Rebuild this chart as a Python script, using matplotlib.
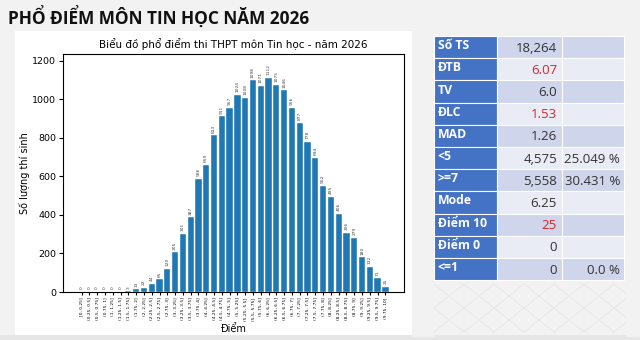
import matplotlib
matplotlib.use("Agg")
import matplotlib.pyplot as plt
from matplotlib.patches import Rectangle
import numpy as np

# ---- data ----
bin_edges = [i * 0.25 for i in range(41)]
def fmt(v):
    return ("%g" % v)
bin_labels = ["[0, 0.25]"] + ["(%s, %s]" % (fmt(bin_edges[i]), fmt(bin_edges[i + 1])) for i in range(1, 40)]
counts = [0, 0, 0, 0, 0, 0, 3, 13, 22, 44, 65, 120, 205, 301, 387, 586, 659, 813, 911, 957,
          1024, 1008, 1098, 1071, 1112, 1075, 1046, 956, 877, 778, 694, 552, 495, 406, 306, 279,
          180, 132, 71, 25]

page_title = "PHỔ ĐIỂM MÔN TIN HỌC NĂM 2026"
chart_title = "Biểu đồ phổ điểm thi THPT môn Tin học - năm 2026"
y_label = "Số lượng thí sinh"
x_label = "Điểm"
y_ticks = [0, 200, 400, 600, 800, 1000, 1200]

stat_names = ["Số TS", "ĐTB", "TV", "ĐLC", "MAD", "<5", ">=7", "Mode", "Điểm 10", "Điểm 0", "<=1"]
stat_values = ["18,264", "6.07", "6.0", "1.53", "1.26", "4,575", "5,558", "6.25", "25", "0", "0"]
stat_pcts = ["", "", "", "", "", "25.049 %", "30.431 %", "", "", "", "0.0 %"]
stat_red = [False, True, False, True, False, False, False, False, True, False, False]

W, H = 640, 340
fig = plt.figure(figsize=(6.4, 3.4), dpi=100)
fig.patch.set_facecolor("#f2f2f2")

# background / layout axes in pixel coordinates
bg = fig.add_axes([0, 0, 1, 1])
bg.set_xlim(0, W)
bg.set_ylim(H, 0)
bg.axis("off")
bg.add_patch(Rectangle((0, 335), W, 5, facecolor="#e6e6e6", edgecolor="none"))
bg.add_patch(Rectangle((15, 31), 397, 304, facecolor="white", edgecolor="none"))

# faint pattern below table
for k in range(-6, 10):
    x0 = 434 + k * 30
    bg.plot([x0, x0 + 60], [284, 332], color="#e4e4e4", lw=0.5, zorder=0)
    bg.plot([x0 + 60, x0], [284, 332], color="#e4e4e4", lw=0.5, zorder=0)
bg.add_patch(Rectangle((626, 282), 14, 55, facecolor="#f2f2f2", edgecolor="none", zorder=1))
bg.add_patch(Rectangle((412, 282), 22, 55, facecolor="#f2f2f2", edgecolor="none", zorder=1))

bg.text(8, 17, page_title, fontsize=12.4, fontweight="bold", family="Open Sans",
        color="#111111", va="center", ha="left")

# table
row_h = 22.2
top = 36
c0, c1, c2, c3 = 434, 497, 562, 624
for i, name in enumerate(stat_names):
    y = top + i * row_h
    band = "#cfd5ea" if i % 2 == 0 else "#e9ebf5"
    bg.add_patch(Rectangle((c0, y), c1 - c0, row_h, facecolor="#4472c4", edgecolor="white", lw=0.8))
    bg.add_patch(Rectangle((c1, y), c2 - c1, row_h, facecolor=band, edgecolor="white", lw=0.8))
    bg.add_patch(Rectangle((c2, y), c3 - c2, row_h, facecolor=band, edgecolor="white", lw=0.8))
    bg.text(c0 + 4, y + row_h / 2 - 1.5, name, color="white", fontweight="bold",
            fontsize=8.8, family="Open Sans", va="center", ha="left")
    bg.text(c2 - 5, y + row_h / 2 + 1, stat_values[i],
            color="#d62728" if stat_red[i] else "#333333",
            fontsize=9.5, family="Open Sans", va="center", ha="right")
    if stat_pcts[i]:
        bg.text(c3 - 4, y + row_h / 2 + 1, stat_pcts[i], color="#333333",
                fontsize=9.5, family="Open Sans", va="center", ha="right")

# chart
ax = fig.add_axes([63 / W, 1 - 292 / H, (404 - 63) / W, (292 - 54) / H])
x = np.arange(len(counts))
bars = ax.bar(x, counts, width=0.8, color="#1f77b4", edgecolor="white", linewidth=0.3)
ax.bar_label(bars, labels=[str(c) for c in counts], rotation=90, fontsize=3.2,
             color="#444444", padding=2)
ax.set_ylim(0, 1235)
ax.set_yticks(y_ticks)
ax.tick_params(axis="y", labelsize=6.8, length=3, pad=2)
ax.set_xticks(x)
ax.set_xticklabels(bin_labels, rotation=90, fontsize=3.2)
ax.tick_params(axis="x", length=2.5, pad=1.5)
ax.set_title(chart_title, fontsize=7.5, pad=4)
ax.set_ylabel(y_label, fontsize=7, labelpad=1.5)
ax.set_xlabel(x_label, fontsize=7, labelpad=2.5)

fig.savefig("out.png", dpi=100, facecolor=fig.get_facecolor())
